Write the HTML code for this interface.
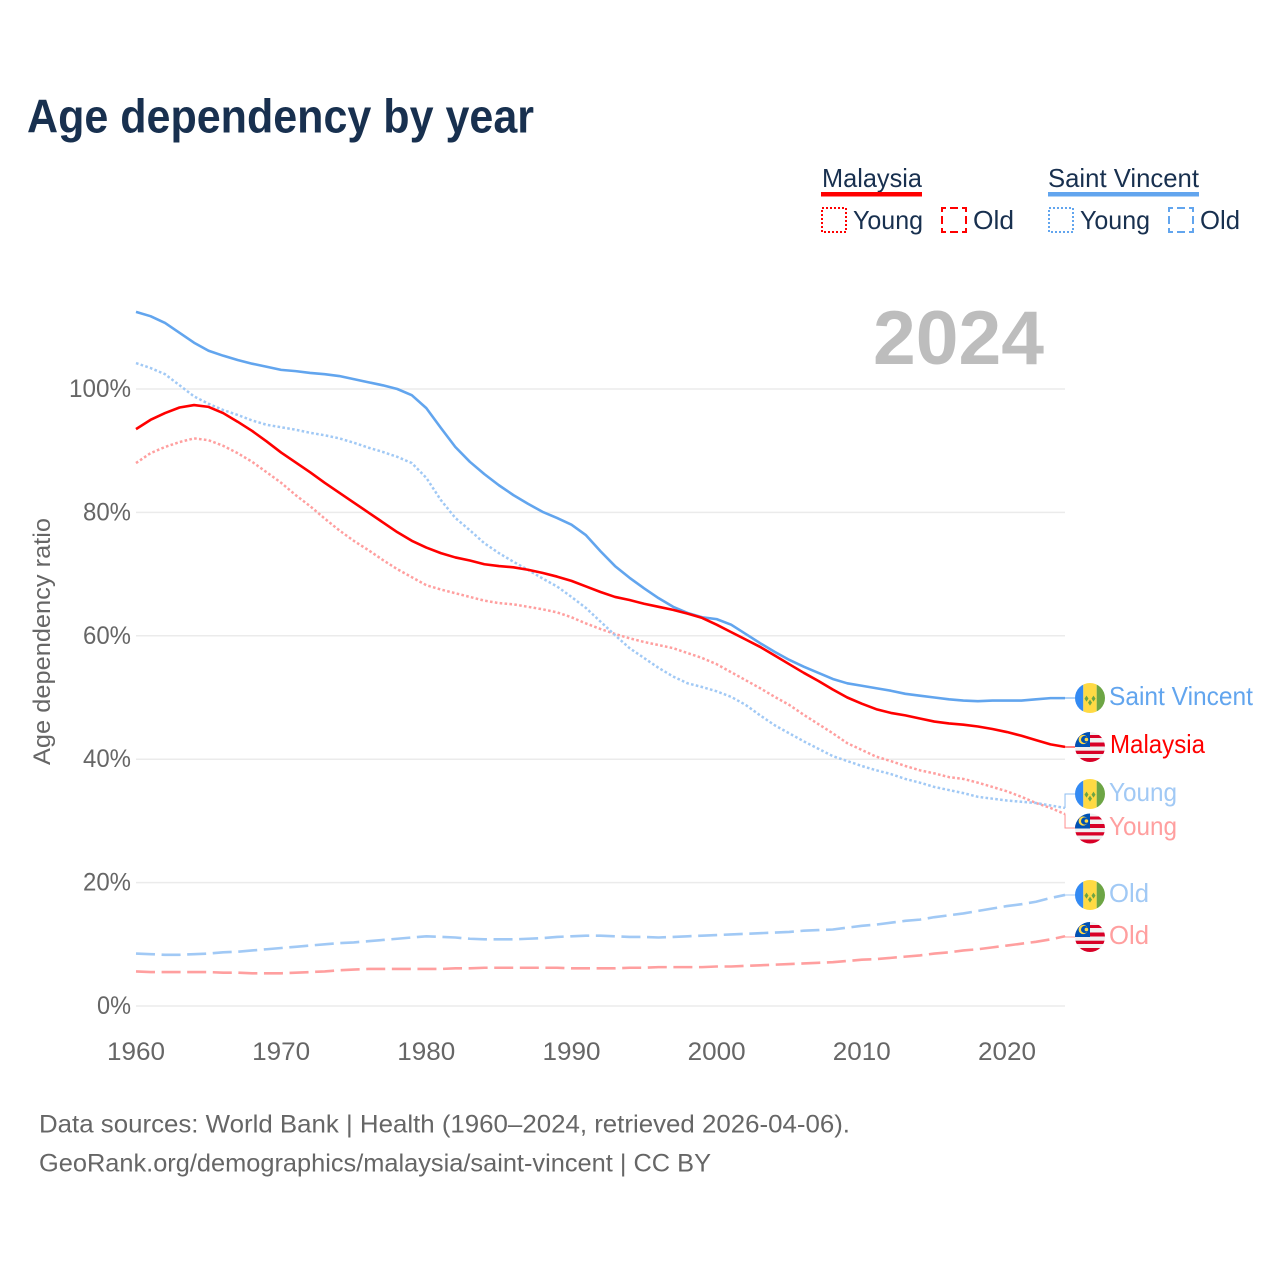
<!DOCTYPE html>
<html lang="en">
<head>
<meta charset="utf-8">
<title>Age dependency by year</title>
<style>
html,body{margin:0;padding:0;background:#fff;width:1280px;height:1280px;overflow:hidden}
svg{display:block}
text{font-family:"Liberation Sans",sans-serif}
</style>
</head>
<body>
<svg id="chart" width="1280" height="1280" viewBox="0 0 1280 1280" xmlns="http://www.w3.org/2000/svg">
<defs>
<clipPath id="flag-clip"><circle cx="0" cy="0" r="15"/></clipPath>
<g id="flag-sv" clip-path="url(#flag-clip)">
<rect x="-15" y="-15" width="8.3" height="30" fill="#338af3"/>
<rect x="-6.7" y="-15" width="13.4" height="30" fill="#ffda44"/>
<rect x="6.7" y="-15" width="8.3" height="30" fill="#6da544"/>
<path d="M-3.5 -2.4l2 3l-2 3l-2 -3zM3.5 -2.4l2 3l-2 3l-2 -3zM0 1.6l2 3l-2 3l-2 -3z" fill="#6da544"/>
</g>
<g id="flag-my" clip-path="url(#flag-clip)">
<rect x="-15" y="-15" width="30" height="30" fill="#f0f0f0"/>
<rect x="-15" y="-12" width="30" height="3" fill="#d80027"/>
<rect x="-15" y="-4.5" width="30" height="4" fill="#d80027"/>
<rect x="-15" y="3.7" width="30" height="3.3" fill="#d80027"/>
<rect x="-15" y="11" width="30" height="4" fill="#d80027"/>
<rect x="-15" y="-15" width="15" height="15" fill="#0052b4"/>
<circle cx="-6.8" cy="-7.5" r="4.6" fill="#ffda44"/>
<circle cx="-5.4" cy="-7.5" r="3.6" fill="#0052b4"/>
<circle cx="-3.6" cy="-7.5" r="1.8" fill="#ffda44"/>
</g>
</defs>

<rect x="0" y="0" width="1280" height="1280" fill="#ffffff"/>

<text x="27" y="132.5" font-size="47" font-weight="700" fill="#18304f" textLength="507" lengthAdjust="spacingAndGlyphs">Age dependency by year</text>

<g fill="#18304f" font-size="26">
  <g>
    <text x="822" y="187" textLength="100" lengthAdjust="spacingAndGlyphs">Malaysia</text>
    <rect x="821" y="192" width="101" height="4.5" fill="#ff0000"/>
    <rect x="822" y="208" width="24" height="24" fill="none" stroke="#ff0000" stroke-width="2" stroke-dasharray="2 2"/>
    <text x="853" y="229" textLength="70" lengthAdjust="spacingAndGlyphs">Young</text>
    <rect x="942" y="208" width="24" height="24" fill="none" stroke="#ff0000" stroke-width="2" stroke-dasharray="8 4" stroke-dashoffset="4"/>
    <text x="973" y="229" textLength="41" lengthAdjust="spacingAndGlyphs">Old</text>
  </g>
  <g>
    <text x="1048" y="187" textLength="151" lengthAdjust="spacingAndGlyphs">Saint Vincent</text>
    <rect x="1048" y="192" width="151" height="4.5" fill="#62a5ee"/>
    <rect x="1049" y="208" width="24" height="24" fill="none" stroke="#62a5ee" stroke-width="2" stroke-dasharray="2 2"/>
    <text x="1080" y="229" textLength="70" lengthAdjust="spacingAndGlyphs">Young</text>
    <rect x="1169" y="208" width="24" height="24" fill="none" stroke="#62a5ee" stroke-width="2" stroke-dasharray="8 4" stroke-dashoffset="4"/>
    <text x="1200" y="229" textLength="40" lengthAdjust="spacingAndGlyphs">Old</text>
  </g>
</g>

<g id="grid"></g>
<g id="y-ticks"></g>
<g id="x-ticks"></g>
<text transform="translate(50,765) rotate(-90)" font-size="24.5" fill="#666666" textLength="247" lengthAdjust="spacingAndGlyphs">Age dependency ratio</text>

<text x="873" y="364" font-size="76" font-weight="700" fill="#bdbdbd" textLength="171" lengthAdjust="spacingAndGlyphs">2024</text>

<g id="connectors"></g>
<g id="series"></g>

<g font-size="26">
  <use href="#flag-sv" x="1090" y="698"/>
  <text x="1109" y="705" fill="#62a5ee" textLength="144" lengthAdjust="spacingAndGlyphs">Saint Vincent</text>
  <use href="#flag-my" x="1090" y="747"/>
  <text x="1110" y="753" fill="#ff0000" textLength="95" lengthAdjust="spacingAndGlyphs">Malaysia</text>
  <use href="#flag-sv" x="1090" y="794"/>
  <text x="1109" y="801" fill="#a1c9f5" textLength="68" lengthAdjust="spacingAndGlyphs">Young</text>
  <use href="#flag-my" x="1090" y="828.5"/>
  <text x="1109" y="835" fill="#ff9f9f" textLength="68" lengthAdjust="spacingAndGlyphs">Young</text>
  <use href="#flag-sv" x="1090" y="895"/>
  <text x="1109" y="902" fill="#a1c9f5" textLength="40" lengthAdjust="spacingAndGlyphs">Old</text>
  <use href="#flag-my" x="1090" y="937"/>
  <text x="1109" y="944" fill="#ff9f9f" textLength="40" lengthAdjust="spacingAndGlyphs">Old</text>
</g>

<g font-size="25" fill="#666666">
  <text x="39" y="1132.5" textLength="811" lengthAdjust="spacingAndGlyphs">Data sources: World Bank | Health (1960–2024, retrieved 2026-04-06).</text>
  <text x="39" y="1171.5" textLength="672" lengthAdjust="spacingAndGlyphs">GeoRank.org/demographics/malaysia/saint-vincent | CC BY</text>
</g>

<script>
var firstYear = 1960;
var xTickLabels = ["1960","1970","1980","1990","2000","2010","2020"];
var yTickValues = [0,20,40,60,80,100];

var saintVincentTotal = [
112.5,111.8,110.7,109.1,107.5,106.2,105.4,104.7,104.1,103.6,
103.1,102.9,102.6,102.4,102.1,101.6,101.1,100.6,100.0,99.0,
96.9,93.7,90.6,88.2,86.2,84.4,82.8,81.4,80.1,79.1,
78.0,76.3,73.7,71.3,69.4,67.7,66.1,64.7,63.7,63.0,
62.7,61.8,60.3,58.8,57.4,56.1,55.0,54.0,53.0,52.3,
51.9,51.5,51.1,50.6,50.3,50.0,49.7,49.5,49.4,49.5,
49.5,49.5,49.7,49.9,49.9];

var malaysiaTotal = [
93.5,95.0,96.1,97.0,97.4,97.1,96.1,94.7,93.2,91.5,
89.7,88.1,86.5,84.8,83.2,81.6,80.0,78.4,76.8,75.4,
74.3,73.4,72.7,72.2,71.6,71.3,71.1,70.7,70.2,69.6,
68.9,68.0,67.1,66.3,65.8,65.2,64.7,64.2,63.6,62.9,
61.8,60.6,59.4,58.2,56.8,55.4,54.0,52.7,51.3,50.0,
49.0,48.1,47.5,47.1,46.6,46.1,45.8,45.6,45.3,44.9,
44.4,43.8,43.1,42.4,42.0];

var saintVincentYoung = [
104.2,103.4,102.4,100.6,98.8,97.6,96.6,95.8,94.9,94.2,
93.8,93.4,92.9,92.5,92.0,91.3,90.5,89.8,89.0,88.0,
85.6,82.0,79.1,77.1,75.0,73.4,72.0,70.7,69.3,68.0,
66.3,64.5,62.3,60.1,58.0,56.4,54.8,53.4,52.3,51.7,
51.0,50.1,48.8,47.1,45.5,44.2,42.9,41.7,40.5,39.7,
38.9,38.2,37.6,36.8,36.2,35.5,35.0,34.5,33.9,33.6,
33.3,33.1,32.9,32.5,32.1];

var malaysiaYoung = [
88.0,89.6,90.6,91.4,92.0,91.7,90.8,89.6,88.2,86.5,
84.8,82.8,81.0,79.0,77.1,75.4,73.9,72.3,70.8,69.5,
68.2,67.5,66.9,66.3,65.7,65.3,65.1,64.7,64.3,63.8,
63.0,62.0,61.1,60.3,59.6,59.0,58.5,58.0,57.2,56.4,
55.4,54.1,52.8,51.5,50.1,48.8,47.2,45.7,44.2,42.6,
41.5,40.4,39.7,38.9,38.2,37.7,37.1,36.8,36.2,35.5,
34.8,33.9,32.9,32.1,31.1];

var saintVincentOld = [
8.5,8.4,8.3,8.3,8.4,8.5,8.7,8.8,9.0,9.2,
9.4,9.6,9.8,10.0,10.2,10.3,10.5,10.7,10.9,11.1,
11.3,11.2,11.1,10.9,10.8,10.8,10.8,10.9,11.0,11.2,
11.3,11.4,11.4,11.3,11.2,11.2,11.1,11.2,11.3,11.4,
11.5,11.6,11.7,11.8,11.9,12.0,12.2,12.3,12.4,12.7,
13.0,13.2,13.5,13.8,14.0,14.4,14.7,15.0,15.4,15.8,
16.2,16.5,16.9,17.5,18.0];

var malaysiaOld = [
5.6,5.5,5.5,5.5,5.5,5.5,5.4,5.4,5.3,5.3,
5.3,5.4,5.5,5.6,5.8,5.9,6.0,6.0,6.0,6.0,
6.0,6.0,6.1,6.1,6.2,6.2,6.2,6.2,6.2,6.2,
6.1,6.1,6.1,6.1,6.2,6.2,6.3,6.3,6.3,6.3,
6.4,6.4,6.5,6.6,6.7,6.8,6.9,7.0,7.1,7.3,
7.5,7.6,7.8,8.0,8.2,8.5,8.7,9.0,9.2,9.5,
9.8,10.1,10.4,10.8,11.3];

var SVG_NS = "http://www.w3.org/2000/svg";
var PLOT_LEFT = 136, PLOT_RIGHT = 1065, PLOT_ZERO = 1006, PX_PER_PCT = 6.17, PX_PER_YEAR = 14.516;

function xScale(year){ return PLOT_LEFT + (year - firstYear) * PX_PER_YEAR; }
function yScale(pct){ return PLOT_ZERO - pct * PX_PER_PCT; }

var gridGroup = document.getElementById("grid");
var yTickGroup = document.getElementById("y-ticks");
var xTickGroup = document.getElementById("x-ticks");
var seriesGroup = document.getElementById("series");
var connectorGroup = document.getElementById("connectors");

yTickValues.forEach(function(v){
  var line = document.createElementNS(SVG_NS, "line");
  
  
  line.setAttribute("x1", PLOT_LEFT);
  line.setAttribute("x2", PLOT_RIGHT);
  line.setAttribute("y1", yScale(v));
  line.setAttribute("y2", yScale(v));
  line.setAttribute("stroke", "#ebebeb");
  line.setAttribute("stroke-width", "1.5");
  gridGroup.appendChild(line);

  var label = v + "%";
  var t = document.createElementNS(SVG_NS, "text");
  
  
  var w = (label.length - 1) * 14 + 20;
  t.setAttribute("x", 131 - w);
  t.setAttribute("y", yScale(v) + 8);
  t.setAttribute("font-size", "25");
  t.setAttribute("fill", "#666666");
  t.setAttribute("textLength", w);
  t.setAttribute("lengthAdjust", "spacingAndGlyphs");
  t.textContent = label;
  yTickGroup.appendChild(t);
});

xTickLabels.forEach(function(label){
  var t = document.createElementNS(SVG_NS, "text");
  
  
  t.setAttribute("x", xScale(Number(label)) - 29);
  t.setAttribute("y", 1060);
  t.setAttribute("font-size", "25");
  t.setAttribute("fill", "#666666");
  t.setAttribute("textLength", "58");
  t.setAttribute("lengthAdjust", "spacingAndGlyphs");
  t.textContent = label;
  xTickGroup.appendChild(t);
});

function drawSeries(values, color, dash, width, name){
  var d = "";
  values.forEach(function(v, i){
    d += (i ? "L" : "M") + xScale(firstYear + i).toFixed(2) + " " + yScale(v).toFixed(2);
  });
  var p = document.createElementNS(SVG_NS, "path");
  
  
  p.setAttribute("d", d);
  p.setAttribute("fill", "none");
  p.setAttribute("stroke", color);
  p.setAttribute("stroke-width", width);
  p.setAttribute("stroke-linejoin", "round");
  if (dash) p.setAttribute("stroke-dasharray", dash);
  seriesGroup.appendChild(p);
}

function drawConnector(values, flagY, color, name){
  var endX = xScale(firstYear + values.length - 1);
  var p = document.createElementNS(SVG_NS, "path");
  
  
  p.setAttribute("d", "M" + endX + " " + yScale(values[values.length - 1]) + "V" + flagY + "H1075");
  p.setAttribute("fill", "none");
  p.setAttribute("stroke", color);
  p.setAttribute("stroke-width", "1");
  connectorGroup.appendChild(p);
}

drawConnector(saintVincentTotal, 698, "#62a5ee", "connector-saint-vincent");
drawConnector(malaysiaTotal, 747, "#ff0000", "connector-malaysia");
drawConnector(saintVincentYoung, 794, "#8dbdf2", "connector-saint-vincent-young");
drawConnector(malaysiaYoung, 828, "#ff8f8f", "connector-malaysia-young");
drawConnector(saintVincentOld, 895, "#a1c9f5", "connector-saint-vincent-old");
drawConnector(malaysiaOld, 937, "#ff9f9f", "connector-malaysia-old");

drawSeries(malaysiaOld, "#ff9f9f", "19 6.6", 2.6, "line-malaysia-old");
drawSeries(saintVincentOld, "#a1c9f5", "19 6.6", 2.6, "line-saint-vincent-old");
drawSeries(malaysiaYoung, "#ff9f9f", "2.6 2.3", 2.5, "line-malaysia-young");
drawSeries(saintVincentYoung, "#a1c9f5", "2.6 2.3", 2.5, "line-saint-vincent-young");
drawSeries(saintVincentTotal, "#62a5ee", null, 2.6, "line-saint-vincent-total");
drawSeries(malaysiaTotal, "#ff0000", null, 2.6, "line-malaysia-total");
</script>
</svg>
</body>
</html>
